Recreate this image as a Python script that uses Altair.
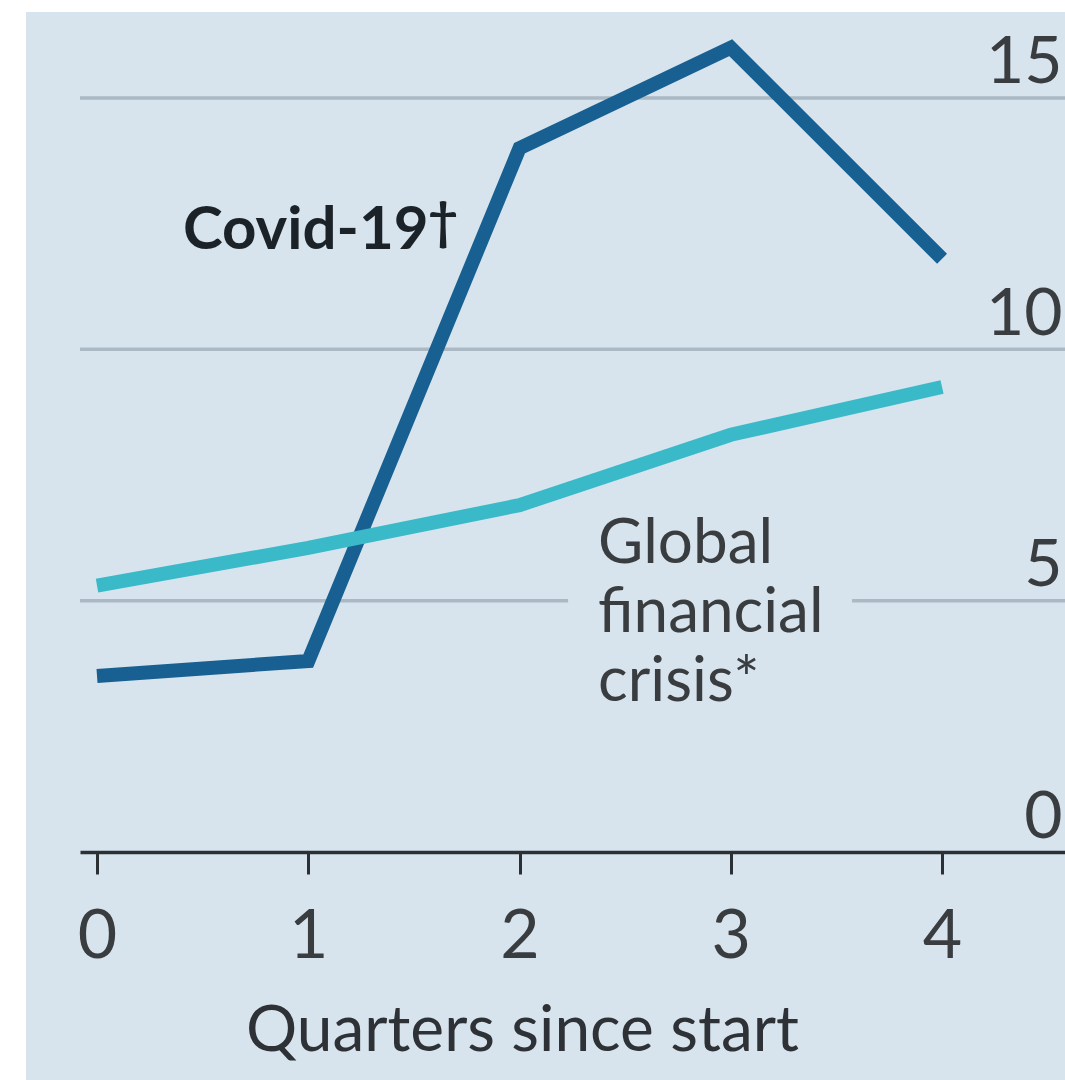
import altair as alt
import pandas as pd

# ---- data ----
quarters = [0, 1, 2, 3, 4]
covid = [3.5, 3.8, 14.0, 16.0, 11.8]
gfc = [5.3, 6.05, 6.9, 8.3, 9.25]
y_ticks = [0, 5, 10, 15]
x_ticks = [0, 1, 2, 3, 4]
series_names = ["Covid-19†", "Global financial crisis*"]

BG = "#d7e4ee"
FONT = "Lato"
W, H = 985, 840

df = pd.DataFrame({
    "q": quarters * 2,
    "v": covid + gfc,
    "s": [series_names[0]] * 5 + [series_names[1]] * 5,
})

xs = alt.Scale(domain=[-0.0805, 4.582], nice=False, zero=False)
ys = alt.Scale(domain=[0, 16.71], nice=False, zero=False)

# panel background (covers plot and margins except thin white strip)
panel = alt.Chart(pd.DataFrame({"a": [0]})).mark_rect(color=BG, clip=False).encode(
    x=alt.value(-54), x2=alt.value(W), y=alt.value(0), y2=alt.value(1068)
)

grid = alt.Chart(pd.DataFrame({"g": [5, 10, 15]})).mark_rule(
    color="#aab9c3", strokeWidth=3.5
).encode(
    y=alt.Y("g:Q", scale=ys), x=alt.value(0), x2=alt.value(W)
)

# gap behind the GFC label
gap = alt.Chart(pd.DataFrame({"x1": [2.23], "x2": [3.574], "y1": [4.6], "y2": [5.4]})).mark_rect(
    color=BG
).encode(
    x=alt.X("x1:Q", scale=xs), x2="x2:Q", y=alt.Y("y1:Q", scale=ys), y2="y2:Q"
)

lines = alt.Chart(df).mark_line(strokeWidth=14, strokeJoin="miter").encode(
    x=alt.X("q:Q", scale=xs, axis=alt.Axis(
        values=x_ticks, format="d", title="Quarters since start", grid=False, zindex=1,
        domainColor="#2b3035", domainWidth=3.5, tickColor="#2b3035", tickWidth=3,
        tickSize=22, labelFontSize=68, labelFont=FONT, labelColor="#3a3d40",
        labelBaseline="alphabetic", labelPadding=83, labelFlush=False,
        titleFont=FONT, titleFontSize=64, titleFontWeight="normal", titleColor="#2e3236",
        titleX=442, titleY=198, titleAnchor="middle", titleAlign="center", titleBaseline="alphabetic",
    )),
    y=alt.Y("v:Q", scale=ys, axis=alt.Axis(
        orient="right", values=y_ticks, format="d", title=None, grid=False, domain=False, ticks=False,
        tickSize=0, zindex=1, labelAlign="right", labelBaseline="alphabetic",
        labelPadding=-3, labelOffset=-15, labelFontSize=66, labelFont=FONT,
        labelColor="#3a3d40", labelFlush=False,
    )),
    color=alt.Color("s:N", scale=alt.Scale(domain=series_names, range=["#176091", "#3ab9c8"]), legend=None),
)

covid_lab_df = pd.DataFrame({"x": [0.407], "y": [12.0], "t": ["Covid-19"], "d": ["†"]})
lab_covid = alt.Chart(covid_lab_df).mark_text(
    font=FONT, fontSize=60, fontWeight="bold", color="#1c2328", align="left", baseline="alphabetic"
).encode(x=alt.X("x:Q", scale=xs), y=alt.Y("y:Q", scale=ys), text="t:N")
lab_dagger = alt.Chart(covid_lab_df).mark_text(
    font=FONT, fontSize=52, fontWeight="bold", color="#1c2328", align="left", baseline="alphabetic",
    dx=245, dy=-10
).encode(x=alt.X("x:Q", scale=xs), y=alt.Y("y:Q", scale=ys), text="d:N")

lab_gfc = alt.Chart(pd.DataFrame({"x": [2.372], "y": [5.75], "t": ["Global\nfinancial\ncrisis*"]})).mark_text(
    font=FONT, fontSize=62, color="#3a3d40", align="left", baseline="alphabetic",
    lineBreak="\n", lineHeight=69
).encode(x=alt.X("x:Q", scale=xs), y=alt.Y("y:Q", scale=ys), text="t:N")

chart = alt.layer(panel, grid, gap, lines, lab_covid, lab_dagger, lab_gfc).properties(
    width=W, height=H,
    autosize=alt.AutoSizeParams(type="none"),
    padding={"left": 80, "top": 12, "right": 0, "bottom": 228},
    background="white",
).configure_view(stroke=None)

chart.save("out.html", embed_options={"renderer": "svg", "actions": False})
